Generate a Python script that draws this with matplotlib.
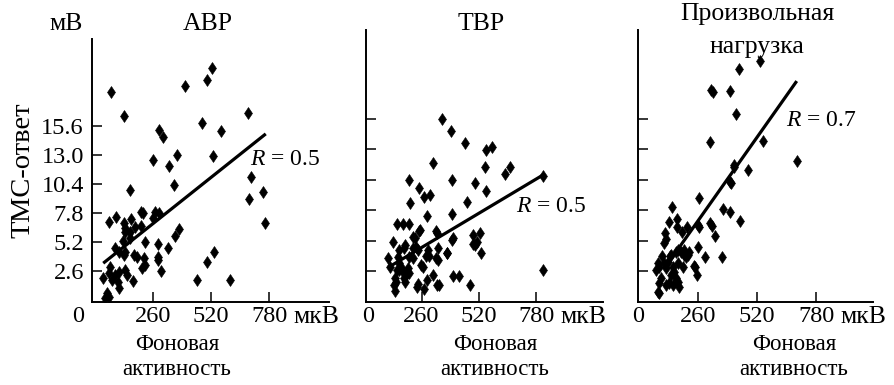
import matplotlib
matplotlib.use("Agg")
import matplotlib.pyplot as plt

plt.rcParams['font.family'] = ['Liberation Serif', 'DejaVu Serif']
plt.rcParams['mathtext.fontset'] = 'custom'
plt.rcParams['mathtext.it'] = 'Liberation Serif:italic'
plt.rcParams['mathtext.rm'] = 'Liberation Serif'

# ---------------- data ----------------
abr_x = [74, 133, 403, 502, 525, 684, 480, 564, 290, 307,
         260, 368, 334, 528, 356, 159, 698, 751, 691, 763,
         534, 501, 459, 605, 327, 358, 379, 285, 285, 282,
         296, 260, 290, 272, 66, 96, 133, 163, 138, 135,
         182, 208, 208, 215, 227, 126, 160, 108, 138, 175,
         190, 220, 224, 212, 130, 93, 71, 63, 93, 108,
         138, 145, 171, 105, 108, 37, 78, 56, 63, 48, 159]
abr_y = [18.63, 16.53, 19.19, 19.73, 20.83, 16.74, 15.9, 15.16, 15.25, 14.62,
         12.53, 13.0, 12.04, 12.91, 10.29, 9.87, 11.03, 9.71, 9.03, 6.93,
         4.28, 3.44, 1.79, 1.79, 4.69, 5.74, 6.37, 5.02, 3.88, 3.59,
         2.6, 7.38, 7.83, 7.92, 7.02, 7.42, 6.88, 7.24, 6.43, 6.13,
         6.52, 6.64, 7.92, 7.78, 5.23, 5.29, 5.53, 4.33, 4.33, 4.04,
         3.88, 3.74, 3.14, 2.84, 4.04, 4.64, 2.99, 2.39, 2.24, 2.54,
         2.69, 2.24, 1.7, 1.59, 1.1, 2.0, 1.79, 0.6, 0.3, 0.15, 6.13]
abr_fit_x = [39, 765]
abr_fit_y = [3.3, 14.9]

tvr_x = [353, 394, 456, 553, 580, 313, 550, 640, 662, 810,
         204, 397, 501, 553, 247, 298, 273, 208, 468, 397,
         285, 150, 177, 204, 253, 220, 329, 401, 397, 495,
         525, 503, 510, 530, 377, 813, 404, 431, 480, 332,
         341, 271, 241, 139, 109, 132, 250, 326, 232, 495,
         159, 182, 186, 220, 235, 243, 291, 333, 376, 152,
         204, 220, 258, 268, 280, 295, 326, 333, 156, 167,
         159, 174, 189, 182, 197, 204, 186, 144, 136, 311,
         243, 283, 117, 139, 147]
tvr_y = [15.6, 14.58, 13.58, 12.95, 13.18, 11.86, 11.47, 10.9, 11.47, 10.73,
         10.38, 10.38, 10.15, 9.47, 9.67, 9.1, 8.96, 8.44, 8.53, 7.48,
         7.33, 6.62, 6.62, 6.62, 6.11, 5.53, 5.88, 5.4, 5.25, 5.68,
         5.83, 4.82, 5.11, 4.17, 4.17, 2.69, 2.17, 2.17, 1.4, 1.4,
         1.4, 1.04, 1.26, 0.92, 3.69, 5.11, 6.02, 6.02, 5.45, 4.88,
         4.4, 4.54, 4.82, 4.54, 4.68, 4.4, 4.4, 4.59, 4.11, 3.82,
         3.82, 3.69, 3.11, 2.97, 3.88, 3.91, 3.69, 3.54, 3.26, 2.97,
         2.69, 2.49, 2.26, 1.98, 2.83, 2.4, 1.63, 1.69, 1.4, 2.26,
         1.46, 1.83, 2.97, 1.98, 2.69]
tvr_fit_x = [108, 810]
tvr_fit_y = [2.9, 10.8]

vol_x = [534, 443, 320, 326, 402, 428, 314, 546, 695, 418,
         421, 481, 403, 406, 264, 372, 402, 446, 314, 322,
         335, 263, 267, 263, 292, 365, 245, 256, 146, 135,
         168, 190, 212, 116, 121, 112, 102, 138, 168, 143,
         165, 172, 187, 201, 209, 84, 91, 77, 113, 121,
         128, 150, 157, 143, 165, 172, 194, 135, 150, 121,
         172, 179, 99, 91, 84, 91, 250, 216, 223, 201]
vol_y = [20.59, 19.85, 18.08, 17.89, 18.0, 16.03, 13.61, 13.75, 12.04, 11.67,
         11.52, 11.24, 10.24, 10.1, 8.87, 7.9, 7.62, 6.9, 6.68, 6.48,
         5.59, 6.54, 6.34, 4.63, 3.82, 3.82, 3.03, 2.26, 8.1, 6.82,
         7.02, 5.96, 6.39, 5.83, 5.31, 5.02, 3.88, 3.88, 6.34, 3.97,
         4.25, 4.4, 4.2, 3.97, 3.82, 3.26, 2.97, 2.69, 3.26, 2.83,
         3.4, 2.97, 2.54, 2.26, 1.98, 3.26, 2.97, 1.55, 1.4, 1.4,
         1.69, 1.26, 1.98, 1.55, 0.83, 0.69, 2.97, 3.97, 4.25, 4.4]
vol_fit_x = [160, 695]
vol_fit_y = [4.1, 18.85]

y_ticks = [2.6, 5.2, 7.8, 10.4, 13.0, 15.6]
y_ticklabels = ['2.6', '5.2', '7.8', '10.4', '13.0', '15.6']
x_ticks = [260, 520, 780]
x_ticklabels = ['260', '520', '780']
r_labels = ['0.5', '0.5', '0.7']
titles = ['АВР', 'ТВР', 'Произвольная\nнагрузка']

# ---------------- layout ----------------
W, H = 895, 385
fig = plt.figure(figsize=(W / 100, H / 100), dpi=100)

def fx(px):
    return px / W

def fy(py):
    return 1 - py / H

FS_TICK = 17.5
FS_UNIT = 18.5
FS_TITLE = 18.5
FS_XLAB = 16.5
FS_YLAB = 20.5
FS_R = 17

panels = [
    dict(l=92, r=329, t=39, xlim=(-11.2, 1047.5), ylim=(-0.18, 23.41),
         x=abr_x, y=abr_y, fx_=abr_fit_x, fy_=abr_fit_y, zero=-14),
    dict(l=366, r=603, t=30, xlim=(7.7, 1084), ylim=(-0.05, 23.22),
         x=tvr_x, y=tvr_y, fx_=tvr_fit_x, fy_=tvr_fit_y, zero=2),
    dict(l=638, r=873, t=30, xlim=(-2.2, 1030), ylim=(-0.05, 23.22),
         x=vol_x, y=vol_y, fx_=vol_fit_x, fy_=vol_fit_y, zero=0),
]
bottom = 302
xpad_pt = 3.0
xpad_px = xpad_pt * 100 / 72

axes = []
for i, p in enumerate(panels):
    ax = fig.add_axes([fx(p['l']), fy(bottom), (p['r'] - p['l']) / W, (bottom - p['t']) / H])
    ax.plot(p['x'], p['y'], linestyle='none', marker='d', ms=6.2, color='black',
            markeredgewidth=0.4)
    ax.plot(p['fx_'], p['fy_'], color='black', lw=2.3, solid_capstyle='butt')
    ax.set_xlim(*p['xlim'])
    ax.set_ylim(*p['ylim'])
    for s in ['top', 'right']:
        ax.spines[s].set_visible(False)
    for s in ['left', 'bottom']:
        ax.spines[s].set_linewidth(1.4)
    ax.set_xticks(x_ticks)
    ax.set_xticklabels(x_ticklabels)
    ax.set_yticks(y_ticks)
    if i == 0:
        ax.set_yticklabels(y_ticklabels)
    else:
        ax.set_yticklabels([])
    ax.tick_params(axis='both', direction='in', length=7, width=1.1, labelsize=FS_TICK)
    ax.tick_params(axis='x', pad=xpad_pt)
    ax.tick_params(axis='y', pad=5.8)
    ax.patch.set_alpha(0)
    ax.annotate('0', xy=(0, 0), xycoords='axes fraction', xytext=(p['zero'], -xpad_px),
                textcoords='offset pixels', ha='center', va='top', fontsize=FS_TICK,
                annotation_clip=False)
    ax.annotate('мкВ', xy=(780, 0), xycoords=('data', 'axes fraction'),
                xytext=(24, -xpad_px), textcoords='offset pixels', ha='left', va='top',
                fontsize=FS_UNIT, annotation_clip=False)
    axes.append(ax)

fig.text(fx(66), fy(30), 'мВ', ha='center', va='baseline', fontsize=FS_TITLE)
fig.text(fx(208), fy(30), titles[0], ha='center', va='baseline', fontsize=FS_TITLE)
fig.text(fx(481), fy(30), titles[1], ha='center', va='baseline', fontsize=FS_TITLE)
t3a, t3b = titles[2].split('\n')
fig.text(fx(757), fy(20), t3a, ha='center', va='baseline', fontsize=FS_TITLE)
fig.text(fx(757), fy(53), t3b, ha='center', va='baseline', fontsize=FS_TITLE)

fig.text(fx(23), fy(170), 'ТМС-ответ', rotation=90, ha='center', va='center', fontsize=FS_YLAB)

for cx in [177, 495, 794]:
    fig.text(fx(cx), fy(350), 'Фоновая', ha='center', va='baseline', fontsize=FS_XLAB)
    fig.text(fx(cx), fy(375), 'активность', ha='center', va='baseline', fontsize=FS_XLAB)

for (px, py), r in zip([(250, 165), (516, 212), (786, 126)], r_labels):
    fig.text(fx(px), fy(py), r'$R$ = ' + r, ha='left', va='baseline', fontsize=FS_R)

fig.savefig('out.png', dpi=100)
